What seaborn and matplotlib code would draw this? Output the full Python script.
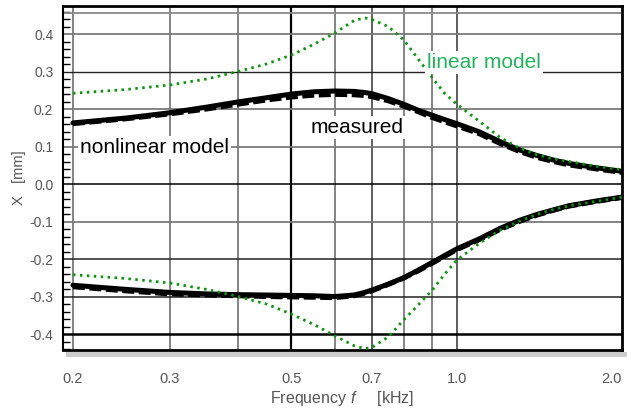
import matplotlib
matplotlib.use("Agg")
import matplotlib.pyplot as plt
import matplotlib.ticker as mticker
from matplotlib.patches import Rectangle
import matplotlib.transforms as mtransforms
import pandas as pd
import seaborn as sns

# Frequency grid (kHz) shared by all curves
freq = [0.2, 0.25, 0.3, 0.35, 0.4, 0.45, 0.5, 0.55, 0.6, 0.65, 0.68, 0.7, 0.75,
        0.8, 0.85, 0.9, 0.95, 1.0, 1.1, 1.2, 1.3, 1.4, 1.5, 1.6, 1.8, 2.0]

# Displacement envelope X [mm]: upper (positive) and lower (negative) peaks
nonlinear_upper = [0.163, 0.176, 0.190, 0.205, 0.219, 0.230, 0.240, 0.246, 0.248, 0.247,
                   0.244, 0.241, 0.228, 0.213, 0.197, 0.184, 0.172, 0.161, 0.139, 0.113,
                   0.091, 0.076, 0.064, 0.055, 0.043, 0.034]
measured_upper = [0.161, 0.174, 0.187, 0.200, 0.213, 0.224, 0.232, 0.237, 0.239, 0.238,
                  0.236, 0.233, 0.222, 0.208, 0.193, 0.178, 0.166, 0.155, 0.134, 0.108,
                  0.087, 0.071, 0.060, 0.051, 0.040, 0.031]
linear_upper = [0.242, 0.252, 0.264, 0.280, 0.300, 0.320, 0.344, 0.373, 0.403, 0.436,
                0.443, 0.439, 0.420, 0.385, 0.334, 0.286, 0.242, 0.213, 0.167, 0.124,
                0.096, 0.078, 0.067, 0.060, 0.047, 0.038]
nonlinear_lower = [-0.270, -0.281, -0.289, -0.293, -0.295, -0.296, -0.297, -0.298, -0.300,
                   -0.296, -0.289, -0.283, -0.267, -0.250, -0.230, -0.210, -0.191, -0.173,
                   -0.146, -0.118, -0.097, -0.081, -0.069, -0.058, -0.045, -0.035]
measured_lower = [-0.274, -0.285, -0.293, -0.296, -0.298, -0.300, -0.301, -0.302, -0.303,
                  -0.298, -0.291, -0.285, -0.268, -0.251, -0.232, -0.212, -0.193, -0.175,
                  -0.148, -0.121, -0.100, -0.083, -0.070, -0.059, -0.046, -0.036]
linear_lower = [-0.242, -0.252, -0.264, -0.281, -0.300, -0.320, -0.347, -0.375, -0.405,
                -0.431, -0.439, -0.436, -0.408, -0.363, -0.323, -0.285, -0.241, -0.203,
                -0.158, -0.123, -0.099, -0.081, -0.068, -0.058, -0.046, -0.035]

xtick_vals = [0.2, 0.3, 0.5, 0.7, 1.0, 2.0]
xtick_labels = ["0.2", "0.3", "0.5", "0.7", "1.0", "2.0"]
ytick_vals = [-0.4, -0.3, -0.2, -0.1, 0.0, 0.1, 0.2, 0.3, 0.4]
ytick_labels = ["-0.4", "-0.3", "-0.2", "-0.1", "0.0", "0.1", "0.2", "0.3", "0.4"]

sns.set_style("white")
plt.rcParams["font.family"] = ["Liberation Sans", "DejaVu Sans"]
plt.rcParams["axes.unicode_minus"] = False
plt.rcParams["mathtext.fontset"] = "custom"
plt.rcParams["mathtext.it"] = "Liberation Sans:italic"
plt.rcParams["mathtext.rm"] = "Liberation Sans"

fig = plt.figure(figsize=(6.27, 4.12), dpi=100)
ax = fig.add_axes([63 / 627, 1 - 349.5 / 412, 559 / 627, 343.5 / 412])
ax.set_xscale("log")
ax.set_xlim(0.1918, 2.0)
ax.set_ylim(-0.4413, 0.4747)

# Grid: vertical lines at 0.2 ... 1.0 and 2.0 kHz
vgrid = [0.2, 0.3, 0.4, 0.5, 0.6, 0.7, 0.8, 0.9, 1.0]
vcolor = {0.5: ("black", 1.6), 0.7: ("#333333", 1.1), 1.0: ("#333333", 1.1)}
for v in vgrid:
    c, w = vcolor.get(v, ("#7a7a7a", 1.3))
    ax.axvline(v, color=c, lw=w, zorder=1)
hcolor = {0.0: ("black", 1.1), 0.3: ("#222222", 1.0), -0.2: ("#222222", 1.1),
          -0.3: ("#222222", 1.1), -0.4: ("black", 1.8)}
for h in ytick_vals:
    c, w = hcolor.get(h, ("#7a7a7a", 1.3))
    ax.axhline(h, color=c, lw=w, zorder=1)
ax.axhline(0.456, color="#8a8a8a", lw=1.3, zorder=1)

df = pd.DataFrame({"f": freq,
                   "nl_up": nonlinear_upper, "ms_up": measured_upper, "lin_up": linear_upper,
                   "nl_lo": nonlinear_lower, "ms_lo": measured_lower, "lin_lo": linear_lower})

for col in ["nl_up", "nl_lo"]:
    sns.lineplot(data=df, x="f", y=col, ax=ax, color="black", lw=3.6,
                 errorbar=None, zorder=3)
for col in ["ms_up", "ms_lo"]:
    sns.lineplot(data=df, x="f", y=col, ax=ax, color="black", lw=3.6,
                 linestyle=(0, (2.4, 0.9)), errorbar=None, zorder=4)
for col in ["lin_up", "lin_lo"]:
    sns.lineplot(data=df, x="f", y=col, ax=ax, color="#0a960a", lw=2.0,
                 linestyle=(0, (0.9, 1.6)), errorbar=None, zorder=5)

# Curve annotations
box = dict(facecolor="white", edgecolor="none", pad=1.5)
ax.text(0.206, 0.0835, "nonlinear model", fontsize=15, color="black",
        ha="left", va="baseline", bbox=box, zorder=6)
ax.text(0.541, 0.137, "measured", fontsize=15, color="black",
        ha="left", va="baseline", bbox=box, zorder=6)
ax.text(0.882, 0.3085, "linear model", fontsize=15, color="#22b45a",
        ha="left", va="baseline", bbox=box, zorder=6)

# Axes frame
for s in ["left", "right", "top", "bottom"]:
    ax.spines[s].set_visible(True)
    ax.spines[s].set_color("black")
ax.spines["left"].set_linewidth(1.5)
ax.spines["right"].set_linewidth(2.0)
ax.spines["top"].set_linewidth(2.0)
ax.spines["bottom"].set_linewidth(2.0)

# Ticks
ax.xaxis.set_major_locator(mticker.FixedLocator(xtick_vals))
ax.xaxis.set_major_formatter(mticker.FixedFormatter(xtick_labels))
ax.xaxis.set_minor_locator(mticker.FixedLocator([0.2, 0.4, 0.6, 0.8, 1.0, 2.0]))
ax.xaxis.set_minor_formatter(mticker.NullFormatter())
ax.tick_params(axis="x", which="major", length=0, pad=16, labelsize=10.5,
               labelcolor="#555555")
ax.tick_params(axis="x", which="minor", direction="out", length=12, width=1.2,
               color="#555555")
ax.set_yticks(ytick_vals)
ax.set_yticklabels(ytick_labels)
ax.yaxis.set_minor_locator(mticker.MultipleLocator(0.02))
ax.tick_params(axis="y", which="major", direction="out", length=6, width=1.0,
               color="#444444", labelsize=10, labelcolor="#555555", pad=1)
ax.tick_params(axis="y", which="minor", direction="in", length=5, width=1.0,
               color="black", left=True)

# Keep the last frequency label inside the figure
last = ax.get_xticklabels()[-1]
last.set_transform(last.get_transform() +
                   mtransforms.ScaledTranslation(-11 / 100, 0, fig.dpi_scale_trans))

ax.set_xlabel("Frequency $f$     [kHz]", fontsize=11.5, color="#555555", labelpad=2)
ax.set_ylabel("X   [mm]", fontsize=10.5, color="#555555", labelpad=2)

# Light drop shadow under the plot frame
fig.patches.append(Rectangle((66 / 627, 1 - 357 / 412), 561 / 627, 5.5 / 412,
                             transform=fig.transFigure, facecolor="#cccccc",
                             edgecolor="none", zorder=0))

fig.savefig("out.png", dpi=100)
